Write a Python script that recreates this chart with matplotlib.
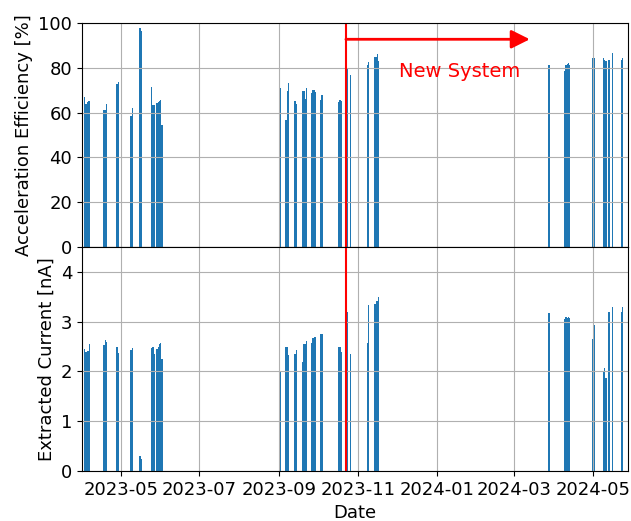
import matplotlib
matplotlib.use('Agg')
import matplotlib.pyplot as plt
import matplotlib.dates as mdates
import pandas as pd

dates = ['2023-04-03', '2023-04-04', '2023-04-05', '2023-04-06', '2023-04-07',
         '2023-04-18', '2023-04-19', '2023-04-20', '2023-04-28', '2023-04-29',
         '2023-05-09', '2023-05-10', '2023-05-16', '2023-05-17',
         '2023-05-25', '2023-05-26', '2023-05-27',
         '2023-05-29', '2023-05-30', '2023-05-31', '2023-06-01', '2023-06-02',
         '2023-09-02', '2023-09-06', '2023-09-07', '2023-09-08',
         '2023-09-13', '2023-09-14',
         '2023-09-19', '2023-09-20', '2023-09-21', '2023-09-22',
         '2023-09-26', '2023-09-27', '2023-09-28', '2023-09-29',
         '2023-10-03', '2023-10-04', '2023-10-17', '2023-10-18', '2023-10-19',
         '2023-10-23', '2023-10-24', '2023-10-26',
         '2023-11-08', '2023-11-09',
         '2023-11-14', '2023-11-15', '2023-11-16', '2023-11-17',
         '2024-03-28',
         '2024-04-09', '2024-04-10', '2024-04-11', '2024-04-12', '2024-04-13',
         '2024-05-01', '2024-05-02',
         '2024-05-09', '2024-05-10', '2024-05-11', '2024-05-13', '2024-05-14',
         '2024-05-16', '2024-05-23', '2024-05-24']

efficiency = [67.0, 64.0, 64.7, 65.2, 65.2,
              61.0, 61.2, 63.7, 72.6, 73.5,
              58.3, 61.9, 97.8, 96.4,
              71.3, 63.5, 63.2,
              64.1, 64.5, 65.0, 65.5, 54.3,
              70.8, 56.5, 69.5, 73.0,
              65.0, 63.7,
              69.5, 69.5, 66.0, 70.8,
              68.6, 70.0, 70.0, 69.0,
              65.5, 67.7, 64.6, 65.5, 65.0,
              84.7, 79.8, 76.7,
              81.2, 82.5,
              84.7, 84.7, 86.1, 83.0,
              81.2,
              78.5, 81.2, 81.6, 82.0, 81.2,
              84.3, 84.3,
              84.3, 83.4, 83.0, 83.4, 83.4,
              86.5, 83.4, 84.3]

current = [2.45, 2.40, 2.41, 2.41, 2.55,
           2.53, 2.63, 2.59, 2.49, 2.37,
           2.43, 2.47, 0.30, 0.24,
           2.47, 2.49, 2.35,
           2.45, 2.49, 2.55, 2.57, 2.25,
           1.99, 2.49, 2.49, 2.33,
           2.35, 2.43,
           2.19, 2.55, 2.55, 2.61,
           2.57, 2.67, 2.69, 2.69,
           2.75, 2.75, 2.49, 2.49, 2.39,
           3.13, 3.19, 2.35,
           2.57, 3.34,
           3.36, 3.42, 3.42, 3.50,
           3.17,
           3.05, 3.09, 3.07, 3.09, 3.07,
           2.65, 2.93,
           1.99, 2.07, 1.87, 3.19, 3.19,
           3.30, 3.19, 3.30]

new_system_start = '2023-10-22 12:00'
arrow_end = '2024-03-13'

plt.rcParams['font.size'] = 13

d = pd.to_datetime(dates)
t0 = pd.Timestamp(new_system_start)

fig, (ax1, ax2) = plt.subplots(2, 1, sharex=True, figsize=(6.31, 5.21), dpi=100)
fig.subplots_adjust(left=0.13, right=0.995, top=0.956, bottom=0.096, hspace=0)

ax1.bar(d, efficiency, width=1.0)
ax1.axvline(t0, color='red', lw=1.5)
ax1.annotate('', xy=(pd.Timestamp(arrow_end), 92.7), xytext=(t0, 92.7),
             arrowprops=dict(arrowstyle='-|>', color='red', lw=2,
                             mutation_scale=28, shrinkA=0, shrinkB=0))
ax1.text(pd.Timestamp('2024-01-19'), 78.5, 'New System', color='red',
         fontsize=14, ha='center', va='center')
ax1.set_ylim(0, 100)
ax1.set_ylabel('Acceleration Efficiency [%]')
ax1.grid(True)

ax2.bar(d, current, width=1.0)
ax2.axvline(t0, color='red', lw=1.5)
ax2.set_ylim(0, 4.5)
ax2.set_ylabel('Extracted Current [nA]')
ax2.set_xlabel('Date')
ax2.grid(True)

ax2.set_xlim(pd.Timestamp('2023-04-01'), pd.Timestamp('2024-05-28'))
ax2.xaxis.set_major_locator(mdates.MonthLocator(bymonth=[1, 3, 5, 7, 9, 11]))
ax2.xaxis.set_major_formatter(mdates.DateFormatter('%Y-%m'))

fig.savefig('out.png', dpi=100)
